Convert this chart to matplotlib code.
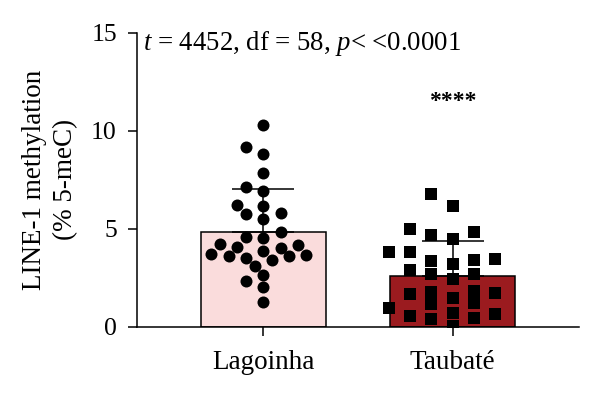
import numpy as np
import matplotlib
matplotlib.use("Agg")
import matplotlib.pyplot as plt

plt.rcParams['font.family'] = ['Liberation Serif', 'DejaVu Serif']
plt.rcParams['mathtext.fontset'] = 'custom'
plt.rcParams['mathtext.rm'] = 'Liberation Serif'
plt.rcParams['mathtext.it'] = 'Liberation Serif:italic'

groups = ['Lagoinha', 'Taubaté']
lagoinha = [10.3, 9.19, 8.82, 7.87, 7.16, 6.92, 6.24, 6.19, 5.77, 5.80,
            5.52, 4.84, 4.58, 4.55, 4.21, 4.08, 4.16, 4.05, 3.87, 3.67,
            3.62, 3.70, 3.60, 3.50, 3.40, 3.11, 2.67, 2.35, 2.02, 1.25]
taubate = [6.79, 6.19, 4.84, 4.51, 4.67, 5.02, 3.83, 3.80, 3.36, 3.41,
           3.49, 3.23, 2.93, 2.69, 2.69, 1.80, 1.46, 0.58, 0.65, 1.68,
           1.17, 0.41, 1.72, 1.21, 0.70, 2.43, 1.82, 0.98, 0.44, 0.05]
means = [4.84, 2.59]
sds = [2.20, 1.78]
stat_text = r"$t$ = 4452, df = 58, $p$< <0.0001"
sig_text = "****"

bar_colors = ['#fadcdc', '#9b1b1f']
markers = ['o', 's']


def swarm(values, size_px, sx, sy, step, square=False):
    # simple beeswarm: nearest free horizontal slot, bottom up
    values = np.asarray(values)
    offsets = np.zeros(len(values))
    placed = []
    slots = sorted(np.arange(-12, 13) * size_px * step, key=lambda c: (abs(c), c))
    for i in np.argsort(values):
        y = values[i] * sy
        for c in slots:
            ok = True
            for px, py in placed:
                if square:
                    if abs(c - px) < size_px * 0.95 and abs(y - py) < size_px * 0.95:
                        ok = False
                        break
                elif (c - px) ** 2 + (y - py) ** 2 < (size_px * 0.95) ** 2:
                    ok = False
                    break
            if ok:
                break
        placed.append((c, y))
        offsets[i] = c / sx
    return offsets


fig = plt.figure(figsize=(6, 3.98), dpi=100)
ax = fig.add_axes([0.2283, 0.1784, 0.7367, 0.7394])
xlim = (-0.667, 1.667)
ylim = (0, 15)
ax.set_xlim(*xlim)
ax.set_ylim(*ylim)

# pixels per data unit, used for the swarm layout
sx = 600 * 0.7367 / (xlim[1] - xlim[0])
sy = 398 * 0.7394 / (ylim[1] - ylim[0])

x = np.arange(len(groups))
ax.bar(x, means, width=0.66, color=bar_colors, edgecolor='black',
       linewidth=1.1, zorder=1)
for i in range(len(groups)):
    ax.errorbar(x[i], means[i], yerr=[[0], [sds[i]]], color='black',
                elinewidth=1.1, capsize=22, capthick=1.1, zorder=2)

for i, vals in enumerate([lagoinha, taubate]):
    size = 12 if markers[i] == 'o' else 12.5
    step = 0.72 if markers[i] == 'o' else 0.85
    offs = swarm(vals, size, sx, sy, step, square=(markers[i] == 's'))
    ax.plot(x[i] + offs, vals, linestyle='none', marker=markers[i],
            markersize=size / 1.389, color='black', markeredgewidth=0,
            zorder=3)

ax.text(-0.635, 14.13, stat_text, fontsize=19.3, va='baseline', ha='left')
ax.text(1, 11.5, sig_text, fontsize=17, fontweight='bold',
        va='center', ha='center')

ax.set_yticks([0, 5, 10, 15])
ax.set_xticks(x)
ax.set_xticklabels(groups)
ax.tick_params(axis='y', labelsize=18.5, length=6.5, width=1.1, pad=8)
ax.tick_params(axis='x', labelsize=19.5, length=6.5, width=1.1, pad=10)
for s in ['top', 'right']:
    ax.spines[s].set_visible(False)
for s in ['left', 'bottom']:
    ax.spines[s].set_linewidth(1.1)

ax.set_ylabel('LINE-1 methylation\n(% 5-meC)', fontsize=19.5,
              linespacing=1.3, va='center')
ax.yaxis.set_label_coords(-0.197, 0.5)

fig.savefig('out.png', dpi=100)
